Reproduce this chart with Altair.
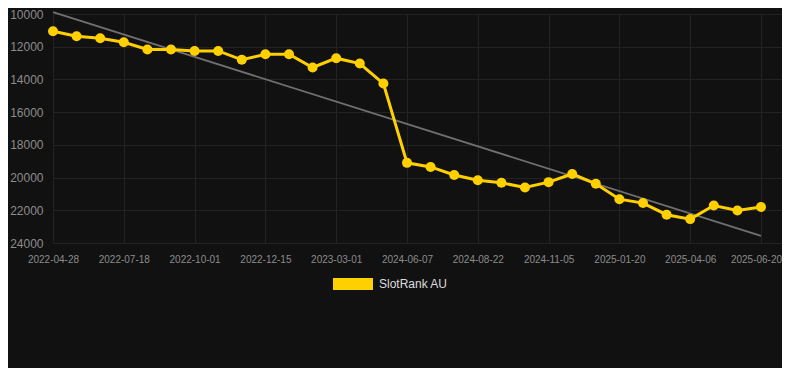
import altair as alt
import pandas as pd

# Tick labels shown on the x axis (every third observation)
tick_dates = ["2022-04-28", "2022-07-18", "2022-10-01", "2022-12-15", "2023-03-01",
              "2024-06-07", "2024-08-22", "2024-11-05", "2025-01-20", "2025-04-06",
              "2025-06-20"]

ranks = [11060, 11360, 11480, 11730, 12170, 12170, 12260, 12260, 12800, 12460,
         12460, 13270, 12700, 13030, 14250, 19100, 19350, 19840, 20160, 20320,
         20610, 20280, 19780, 20380, 21320, 21560, 22270, 22540, 21710, 22010,
         21800]

series_name = "SlotRank AU"
y_ticks = [10000, 12000, 14000, 16000, 18000, 20000, 22000, 24000]

df = pd.DataFrame({"idx": list(range(len(ranks))), "rank": ranks, "series": series_name})
tick_idx = [i * 3 for i in range(len(tick_dates))]
last_idx = tick_idx[-1]
label_expr = "[" + ",".join(f"'{d}'" for d in tick_dates) + "][round(datum.value/3)]"

FONT = "Liberation Sans"
YELLOW = "#FFD000"

x = alt.X("idx:Q",
          scale=alt.Scale(domain=[0, 30.89], nice=False, zero=False),
          axis=alt.Axis(values=tick_idx, labelExpr=label_expr, title=None,
                        labelFontSize=10, labelColor="#8c8c8c", labelFont=FONT,
                        ticks=False, domain=False, labelPadding=11,
                        gridColor="#232323", labelFlush=False,
                        labelOffset={"condition": {"test": f"datum.value >= {last_idx}", "value": -5},
                                     "value": 0}))
y = alt.Y("rank:Q",
          scale=alt.Scale(domain=[10000, 24000], reverse=True, nice=False, zero=False),
          axis=alt.Axis(values=y_ticks, format="d", title=None,
                        labelFontSize=12, labelColor="#8c8c8c", labelFont=FONT,
                        ticks=False, domain=False, labelPadding=10,
                        gridColor="#232323", minExtent=45, maxExtent=45))

base = alt.Chart(df)

trend = base.transform_regression("idx", "rank").mark_line(
    color="#707070", strokeWidth=1.8, clip=False
).encode(x=x, y=y)

line = base.mark_line(color=YELLOW, strokeWidth=3).encode(x=x, y=y)

points = base.mark_circle(size=100, opacity=1).encode(
    x=x, y=y,
    color=alt.Color("series:N",
                    scale=alt.Scale(domain=[series_name], range=[YELLOW]),
                    legend=alt.Legend(title=None, orient="none", legendX=280, legendY=250,
                                      symbolType="M-1,-0.3H1V0.3H-1Z", symbolSize=1600,
                                      symbolStrokeWidth=0, symbolOpacity=1,
                                      labelColor="#dddddd", labelFontSize=12,
                                      labelFont=FONT, padding=0, labelOffset=6))
)

chart = alt.layer(trend, line, points).properties(
    width=729, height=229, background="#111111",
    padding={"left": 0, "top": 0, "right": 0, "bottom": 78}
).configure_view(stroke=None, fill="#111111")

chart.save("out.html", embed_options={"renderer": "svg", "actions": False})
